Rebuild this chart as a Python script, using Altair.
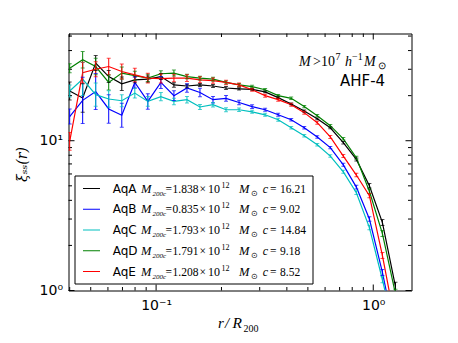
import altair as alt
import pandas as pd

# ---------------- data ----------------
r_over_R200 = [0.0400, 0.0459, 0.0527, 0.0605, 0.0695, 0.0798, 0.0916, 0.1052, 0.1208,
               0.1387, 0.1592, 0.1828, 0.2099, 0.2410, 0.2767, 0.3177, 0.3648, 0.4189,
               0.4810, 0.5522, 0.6341, 0.7280, 0.8359, 0.9598, 1.1020, 1.2654]

names = ["AqA", "AqB", "AqC", "AqD", "AqE"]
colors = ["#000000", "#0000ff", "#00bfbf", "#008000", "#ff0000"]
m200c = ["1.838", "0.835", "1.793", "1.791", "1.208"]
conc = ["16.21", "9.02", "14.84", "9.18", "8.52"]

xi_AqA = [21.5, 19.3, 33.0, 26.8, 24.0, 25.5, 25.8, 26.8, 23.6, 23.2, 23.6, 23.2, 22.5,
          22.2, 22.0, 21.2, 19.4, 17.6, 15.8, 14.0, 12.2, 9.7, 7.5, 5.0, 2.84, 1.06]
xi_AqB = [14.5, 18.6, 21.3, 16.3, 14.8, 24.5, 18.3, 24.5, 20.0, 22.5, 21.0, 18.8, 19.2,
          18.0, 16.9, 16.1, 14.9, 13.8, 12.2, 10.6, 9.0, 6.9, 4.9, 3.0, 1.32, 0.5]
xi_AqC = [21.5, 25.8, 20.3, 19.0, 18.5, 20.8, 18.3, 19.7, 18.3, 18.8, 16.8, 17.4, 16.1,
          16.1, 15.6, 14.9, 13.8, 12.2, 10.8, 9.4, 7.9, 6.2, 4.5, 2.63, 1.18, 0.5]
xi_AqD = [30.5, 34.7, 31.3, 24.5, 28.3, 27.2, 26.2, 28.0, 28.3, 26.8, 26.2, 25.8, 24.5,
          23.6, 23.0, 21.9, 20.0, 19.2, 16.9, 14.7, 12.6, 10.3, 7.7, 4.6, 2.4, 0.95]
xi_AqE = [9.9, 28.5, 30.0, 31.3, 29.0, 27.5, 26.2, 26.0, 26.2, 26.2, 25.5, 25.2, 24.5,
          23.6, 21.9, 20.0, 18.8, 17.4, 15.4, 13.2, 10.6, 7.9, 5.9, 4.3, 1.71, 0.6]

# error bar half-widths in dex
err_AqA = [0.06, 0.095, 0.05, 0.04, 0.045, 0.02, 0.02, 0.02, 0.015, 0.012, 0.01, 0.01, 0.01,
           0.008, 0.006, 0.006, 0.006, 0.006, 0.006, 0.006, 0.006, 0.008, 0.01, 0.015, 0.02, 0.03]
err_AqB = [0.05, 0.155, 0.12, 0.095, 0.08, 0.037, 0.052, 0.04, 0.033, 0.028, 0.028, 0.022, 0.019,
           0.015, 0.012, 0.01, 0.01, 0.008, 0.008, 0.008, 0.008, 0.01, 0.012, 0.015, 0.02, 0.03]
err_AqC = [0.04, 0.11, 0.078, 0.055, 0.04, 0.033, 0.033, 0.027, 0.022, 0.022, 0.017, 0.015, 0.013,
           0.012, 0.01, 0.01, 0.01, 0.008, 0.008, 0.008, 0.008, 0.01, 0.012, 0.015, 0.02, 0.03]
err_AqD = [0.03, 0.055, 0.055, 0.05, 0.04, 0.03, 0.025, 0.02, 0.02, 0.015, 0.013, 0.012, 0.01,
           0.01, 0.008, 0.008, 0.008, 0.008, 0.008, 0.008, 0.008, 0.008, 0.01, 0.015, 0.02, 0.03]
err_AqE = [0.06, 0.07, 0.05, 0.055, 0.05, 0.045, 0.033, 0.03, 0.025, 0.022, 0.02, 0.018, 0.015,
           0.013, 0.01, 0.01, 0.01, 0.01, 0.01, 0.01, 0.01, 0.01, 0.012, 0.015, 0.02, 0.03]

x_major = [0.1, 1.0]
x_minor = [0.04, 0.05, 0.06, 0.07, 0.08, 0.09, 0.2, 0.3, 0.4, 0.5, 0.6, 0.7, 0.8, 0.9]
y_major = [1, 10]
y_minor = [2, 3, 4, 5, 6, 7, 8, 9, 20, 30, 40, 50]

# ---------------- build tables ----------------
series_vals = [xi_AqA, xi_AqB, xi_AqC, xi_AqD, xi_AqE]
series_errs = [err_AqA, err_AqB, err_AqC, err_AqD, err_AqE]
rows = []
for name, vals, errs in zip(names, series_vals, series_errs):
    for x, v, e in zip(r_over_R200, vals, errs):
        rows.append({"x": x, "y": v, "lo": v * 10 ** (-e), "hi": v * 10 ** e, "series": name})
df = pd.DataFrame(rows)

W, H = 343, 257
xs = alt.Scale(type="log", domain=[0.0395, 1.5], nice=False)
ys = alt.Scale(type="log", domain=[1, 52], nice=False)
cs = alt.Scale(domain=names, range=colors)

x_axis = alt.Axis(values=x_major, labelExpr="datum.value < 0.5 ? '10⁻¹' : '10⁰'",
                  ticks=False, domain=False, grid=False, labelFont="DejaVu Sans",
                  labelFontSize=14, labelColor="black", labelPadding=8, title=None)
y_axis = alt.Axis(values=y_major, labelExpr="datum.value < 5 ? '10⁰' : '10¹'",
                  ticks=False, domain=False, grid=False, labelFont="DejaVu Sans",
                  labelFontSize=14, labelColor="black", labelPadding=6, title=None)

lines = alt.Chart(df).mark_line(strokeWidth=1.2, clip=True).encode(
    x=alt.X("x:Q", scale=xs, axis=x_axis),
    y=alt.Y("y:Q", scale=ys, axis=y_axis),
    color=alt.Color("series:N", scale=cs, legend=None),
)
ebars = alt.Chart(df).mark_rule(strokeWidth=1, clip=True).encode(
    x=alt.X("x:Q", scale=xs),
    y=alt.Y("lo:Q", scale=ys),
    y2="hi:Q",
    color=alt.Color("series:N", scale=cs, legend=None),
)
cap_lo = alt.Chart(df).mark_tick(orient="horizontal", size=4, thickness=1, clip=True).encode(
    x=alt.X("x:Q", scale=xs),
    y=alt.Y("lo:Q", scale=ys),
    color=alt.Color("series:N", scale=cs, legend=None),
)
cap_hi = alt.Chart(df).mark_tick(orient="horizontal", size=4, thickness=1, clip=True).encode(
    x=alt.X("x:Q", scale=xs),
    y=alt.Y("hi:Q", scale=ys),
    color=alt.Color("series:N", scale=cs, legend=None),
)

# inward ticks on all four sides
def xticks(vals, ln):
    d = pd.DataFrame({"v": vals})
    b = alt.Chart(d).mark_rule(color="black", strokeWidth=1).encode(
        x=alt.X("v:Q", scale=xs), y=alt.value(H), y2=alt.value(H - ln))
    t = alt.Chart(d).mark_rule(color="black", strokeWidth=1).encode(
        x=alt.X("v:Q", scale=xs), y=alt.value(0), y2=alt.value(ln))
    return [b, t]

def yticks(vals, ln):
    d = pd.DataFrame({"v": vals})
    l = alt.Chart(d).mark_rule(color="black", strokeWidth=1).encode(
        y=alt.Y("v:Q", scale=ys), x=alt.value(0), x2=alt.value(ln))
    r = alt.Chart(d).mark_rule(color="black", strokeWidth=1).encode(
        y=alt.Y("v:Q", scale=ys), x=alt.value(W), x2=alt.value(W - ln))
    return [l, r]

ticks = xticks(x_major, 6) + xticks(x_minor, 3.5) + yticks(y_major, 6) + yticks(y_minor, 3.5)

# ---------------- legend (drawn with pixel positions) ----------------
legend_box = alt.Chart(pd.DataFrame({"a": [0]})).mark_rect(
    fill="white", stroke="black", strokeWidth=1).encode(
    x=alt.value(6.5), x2=alt.value(244.5), y=alt.value(142.5), y2=alt.value(250.5))

row_base = [159 + 20.75 * k for k in range(len(names))]
leg_lines = pd.DataFrame({"py": [b - 4 for b in row_base], "col": colors})
legend_samples = alt.Chart(leg_lines).mark_rule(strokeWidth=1).encode(
    x=alt.value(14.5), x2=alt.value(31.5),
    y=alt.Y("py:Q", scale=None, axis=None),
    color=alt.Color("col:N", scale=None, legend=None))

pieces = []  # (layer, text, px, py, size)
for k, name in enumerate(names):
    b = row_base[k]
    pieces += [
        ("sans", name, 44.2, b, 12),
        ("ital", "M", 72.5, b, 12.5),
        ("ital", "200c", 84.0, b + 3, 7),
        ("rom", "=", 97.0, b, 11.5),
        ("rom", m200c[k], 104.0, b, 11.5),
        ("rom", "×", 131.0, b, 11.5),
        ("rom", "10", 139.5, b, 12),
        ("rom", "12", 153.0, b - 5, 8),
        ("ital", "M", 170.5, b, 12.5),
        ("rom", "⊙", 182.0, b + 3, 8),
        ("ital", "c", 194.2, b, 12),
        ("rom", "=", 201.5, b, 11.5),
        ("rom", conc[k], 211.5, b, 11.5),
    ]

# annotation top right
ab = 32.7
pieces += [
    ("ital", "M", 230.5, ab, 14),
    ("rom", ">", 244.5, ab, 14),
    ("rom", "10", 252.5, ab, 14),
    ("rom", "7", 267.0, ab - 6, 10),
    ("ital", "h", 276.5, ab, 14),
    ("rom", "−1", 283.5, ab - 6, 10),
    ("ital", "M", 295.5, ab, 14),
    ("rom", "⊙", 309.5, ab + 3, 10),
    ("sans", "AHF-4", 271.5, 52.7, 15),
]

# x axis title r/R_200
pieces += [
    ("ital", "r", 149.5, 294, 15),
    ("ital", "/", 156.5, 294, 15),
    ("ital", "R", 164.0, 294, 15.5),
    ("rom", "200", 175.0, 298, 10),
]

tdf = pd.DataFrame(pieces, columns=["layer", "t", "px", "py", "sz"])

def text_layer(layer, font, style):
    return alt.Chart(tdf[tdf.layer == layer]).mark_text(
        align="left", baseline="alphabetic", font=font, fontStyle=style, color="black").encode(
        x=alt.X("px:Q", scale=None, axis=None),
        y=alt.Y("py:Q", scale=None, axis=None),
        size=alt.Size("sz:Q", scale=None, legend=None),
        text="t:N")

texts = [text_layer("sans", "DejaVu Sans", "normal"),
         text_layer("ital", "Liberation Serif", "italic"),
         text_layer("rom", "Liberation Serif", "normal")]

ytitle = alt.Chart(pd.DataFrame({"a": [0]})).mark_text(
    angle=270, align="center", baseline="middle", font="DejaVu Serif",
    fontStyle="italic", fontSize=14, color="black").encode(
    x=alt.value(-46), y=alt.value(131), text=alt.value("ξₛₛ(r)"))

chart = alt.layer(
    lines, *ticks, ebars, cap_lo, cap_hi, legend_box, legend_samples, *texts, ytitle
).properties(
    width=W, height=H,
    autosize=alt.AutoSizeParams(type="none"),
    padding={"left": 60.5, "top": 25.5, "right": 30, "bottom": 50},
    background="white",
).configure_view(stroke="black", strokeWidth=1)

chart.save("out.html", embed_options={"renderer": "svg", "actions": False})
